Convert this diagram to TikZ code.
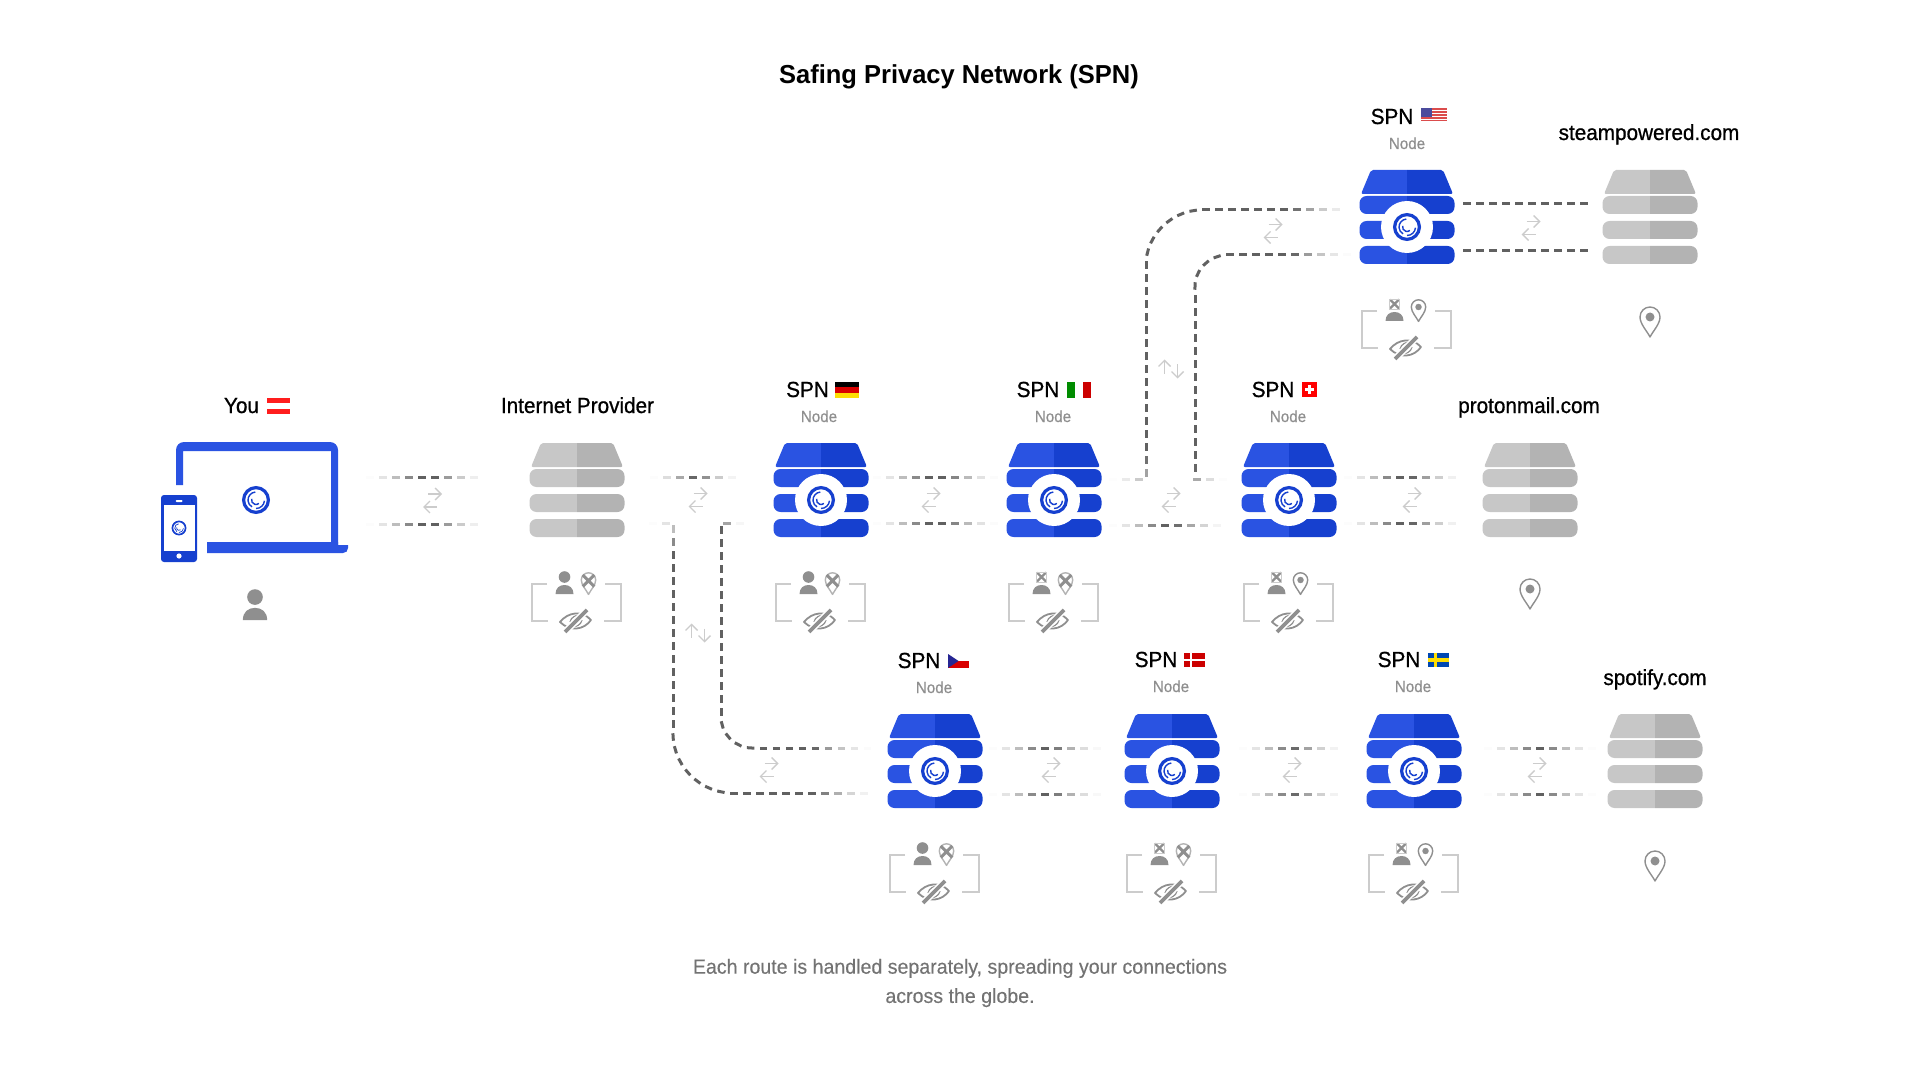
\documentclass[tikz,border=0pt]{standalone}
\usepackage{fontspec}
\setmainfont{Liberation Sans}
\newfontfamily\medfont[FakeBold=0.8,FakeStretch=0.95]{Liberation Sans}
\newfontfamily\subfont[FakeBold=0.5,FakeStretch=0.95]{Liberation Sans}
\newfontfamily\headfont[FakeStretch=0.98]{Liberation Sans}
\newfontfamily\bodyfont[FakeBold=0.3,FakeStretch=0.96]{Liberation Sans}
\usetikzlibrary{arrows, arrows.meta}
\usetikzlibrary{calc,decorations.markings}
\definecolor{spnleft}{HTML}{2A53E2}
\definecolor{spnright}{HTML}{1640CF}
\definecolor{greyleft}{HTML}{C7C7C7}
\definecolor{greyright}{HTML}{B3B3B3}
\definecolor{iconfill}{HTML}{8F8F8F}
\definecolor{bracketline}{HTML}{CCCCCC}
\newcommand{\stackshape}[1]{
  \fill[#1, rounded corners=1pt] (-36,-57) -- (36,-57) -- (46,-33) -- (-46,-33) -- cycle;
  \fill[#1, rounded corners=3.5pt] (-47.5,-31) rectangle (47.5,-13);
  \fill[#1, rounded corners=3.5pt] (-47.5,-6) rectangle (47.5,12);
  \fill[#1, rounded corners=3.5pt] (-47.5,19) rectangle (47.5,37);
}
\newcommand{\pinshape}[1]{
  \draw[#1, line width=0.7pt, line join=round] (0,20) .. controls (-3,14) and (-10,7) .. (-10,0) .. controls (-10,-5.5) and (-5.5,-10) .. (0,-10) .. controls (5.5,-10) and (10,-5.5) .. (10,0) .. controls (10,7) and (3,14) .. (0,20) -- cycle;
}
\tikzstyle{stackbox}=[minimum width=48pt, minimum height=47pt, inner sep=0pt]
\tikzstyle{headline}=[anchor=base, font=\headfont\bfseries\fontsize{13}{15}\selectfont]
\tikzstyle{hopname}=[anchor=base, font=\medfont\fontsize{10.9}{12}\selectfont]
\tikzstyle{hopsub}=[anchor=base, text=iconfill, font=\subfont\fontsize{8}{10}\selectfont]
\tikzstyle{footnote}=[align=center, text=black!55, font=\bodyfont\fontsize{10.2}{14.6}\selectfont]
\tikzstyle{swapline}=[arrows={-Straight Barb[length=3pt,width=6pt]}, draw=bracketline, line width=0.7pt]
\tikzset{
    fadelink/.style 2 args={
        decorate, decoration={markings, mark=between positions 0 and 1 step 6.5pt with {
            \pgfmathsetmacro{\dstart}{\pgfkeysvalueof{/pgf/decoration/mark info/distance from start}}
            \pgfmathsetmacro{\fadepart}{min(1,min((\dstart+2)/#1,(\pgfdecoratedpathlength-\dstart+2)/#2))}
            \pgfmathsetmacro{\fadeval}{62*\fadepart^1.6}
            \draw[line width=1.5pt, black!\fadeval] (-3.75,0) -- (3.75,0);
        }}
    },
    pics/logo/.style={code={
        \begin{scope}[scale=#1, yscale=-1]
            \fill[white] (0,0) circle (14);
            \draw[spnright, line width=#1*1.6pt] (0,0) circle (12.4);
            \draw[spnright, line width=#1*0.7pt] (95:8) arc (95:240:8);
            \draw[spnright, line width=#1*0.7pt] (165:4.5) arc (165:310:4.5);
            \draw[spnright, line width=#1*0.7pt] (270:8.5) arc (270:355:8.5);
        \end{scope}
    }},
    pics/bluestack/.style={code={
        \begin{scope}
            \clip (-50,-60) rectangle (0,40);
            \stackshape{spnleft}
        \end{scope}
        \begin{scope}
            \clip (0,-60) rectangle (50,40);
            \stackshape{spnright}
        \end{scope}
        \fill[white] (0,0) circle (26);
        \pic at (0,0) {logo=1};
    }},
    pics/greystack/.style={code={
        \begin{scope}
            \clip (-50,-60) rectangle (0,40);
            \stackshape{greyleft}
        \end{scope}
        \begin{scope}
            \clip (0,-60) rectangle (50,40);
            \stackshape{greyright}
        \end{scope}
    }},
    pics/devices/.style={code={
        \fill[spnleft] (-79,-15) [rounded corners=4pt] -- (-79,-58) -- (83,-58) [sharp corners] -- (83,45) -- (76,45) -- (76,-49) -- (-72,-49) -- (-72,-15) -- cycle;
        \fill[spnleft] (-48,42) -- (83,42) -- (83,45) -- (93,45) -- (93,48) .. controls (93,51) and (91,53) .. (88,53) -- (-48,53) -- cycle;
        \fill[spnright, rounded corners=1.5pt] (-94,-5) rectangle (-58,62);
        \fill[white] (-91,5) rectangle (-60,51);
        \fill[white, rounded corners=0.5pt] (-79.5,0) rectangle (-72.5,2);
        \fill[white] (-76,56) circle (2.6);
        \pic at (1,0) {logo=1};
        \pic at (-76,28) {logo=0.53};
    }},
    pics/personok/.style={code={
        \fill[iconfill] (0,-17) circle (5.8);
        \fill[iconfill] (-9,0) .. controls (-9,-6) and (-5,-9) .. (0,-9) .. controls (5,-9) and (9,-6) .. (9,0) -- cycle;
    }},
    pics/personx/.style={code={
        \draw[iconfill, line width=1.1pt] (-4.5,-21.5) -- (4.5,-12.5) (-4.5,-12.5) -- (4.5,-21.5);
        \draw[bracketline, line width=0.4pt] (-5,-22) rectangle (5,-12);
        \fill[iconfill] (-9,0) .. controls (-9,-6) and (-5,-9) .. (0,-9) .. controls (5,-9) and (9,-6) .. (9,0) -- cycle;
    }},
    pics/pinok/.style={code={
        \pinshape{iconfill}
        \fill[iconfill] (0,0) circle (4.5);
    }},
    pics/pinx/.style={code={
        \pinshape{greyright}
        \draw[iconfill, line width=1.5pt] (-8,-7) -- (8,9) (8,-7) -- (-8,9);
    }},
    pics/eyeslash/.style={code={
        \draw[iconfill, line width=0.9pt, line join=round] (-16,1) .. controls (-8,-9) and (6,-11) .. (15,-1) .. controls (8,9) and (-6,11) .. (-16,1) -- cycle;
        \draw[iconfill, line width=0.6pt] (-6,1) .. controls (-5,-4) and (0,-6) .. (4,-6);
        \draw[iconfill, line width=0.6pt] (6,-1) .. controls (5,4) and (0,6) .. (-4,6);
        \draw[white, line width=3.4pt] (-12,12) -- (12,-12);
        \draw[iconfill, line width=1.8pt] (-11,11) -- (11,-11);
    }},
    pics/privacy/.style 2 args={code={
        \draw[bracketline, line width=1pt] (-30,84) -- (-45.5,84) -- (-45.5,121) -- (-29,121);
        \draw[bracketline, line width=1pt] (28,84) -- (43.5,84) -- (43.5,121) -- (27,121);
        \pic at (-12.5,94) {#1};
        \pic[scale=0.72] at (11.5,80) {#2};
        \pic at (-1,121) {eyeslash};
    }},
    pics/swap/.style={code={
        \draw[swapline] (-4.5,-6.5) -- (9.5,-6.5);
        \draw[swapline] (4.5,6.5) -- (-9.5,6.5);
    }},
    pics/flagde/.style={code={
        \fill[black] (-12,-8) rectangle (12,-2.7);
        \fill[red!85!black] (-12,-2.7) rectangle (12,2.7);
        \fill[yellow!80!orange] (-12,2.7) rectangle (12,8);
    }},
    pics/flagat/.style={code={
        \fill[red!85!pink] (-11.5,-8) rectangle (11.5,-2.7);
        \fill[red!85!pink] (-11.5,2.7) rectangle (11.5,8);
    }},
    pics/flagit/.style={code={
        \fill[green!55!black] (-12,-8) rectangle (-4,8);
        \fill[red!80!black] (4,-8) rectangle (12,8);
    }},
    pics/flagch/.style={code={
        \fill[red] (-7.5,-7.5) rectangle (7.5,7.5);
        \fill[white] (-1.5,-4.5) rectangle (1.5,4.5);
        \fill[white] (-4.5,-1.5) rectangle (4.5,1.5);
    }},
    pics/flagus/.style={code={
        \fill[red!80!black!70] (-13,-7.5) rectangle (13,7.5);
        \draw[white, line width=0.55pt] (-13,-5.2) -- (13,-5.2) (-13,-2.3) -- (13,-2.3) (-13,0.6) -- (13,0.6) (-13,3.5) -- (13,3.5) (-13,6) -- (13,6);
        \fill[blue!45!black!70] (-13,-7.5) rectangle (-2,0.6);
    }},
    pics/flagcz/.style={code={
        \fill[red!85!black] (-10.5,0) rectangle (10.5,7);
        \fill[blue!50!black!85] (-10.5,-7) -- (0,0) -- (-10.5,7) -- cycle;
    }},
    pics/flagdk/.style={code={
        \fill[red!80!black] (-10.5,-7) rectangle (10.5,7);
        \fill[white] (-4.5,-7) rectangle (-1.8,7);
        \fill[white] (-10.5,-1.4) rectangle (10.5,1.4);
    }},
    pics/flagse/.style={code={
        \fill[blue!60!cyan!70!black] (-10.5,-7) rectangle (10.5,7);
        \fill[yellow!80!orange] (-5,-7) rectangle (-1.8,7);
        \fill[yellow!80!orange] (-10.5,-1.6) rectangle (10.5,1.6);
    }}
}

\begin{document}
\begin{tikzpicture}[x=0.5pt, y=-0.5pt]
  \useasboundingbox (0,0) rectangle (1920,1080);

  \node[headline] (heading) at (959,84) {Safing Privacy Network (SPN)};

  \node[stackbox] (you) at (255,500) {};
  \node[stackbox] (ip) at (577,500) {};
  \node[stackbox] (de) at (821,500) {};
  \node[stackbox] (it) at (1054,500) {};
  \node[stackbox] (ch) at (1289,500) {};
  \node[stackbox] (proton) at (1530,500) {};
  \node[stackbox] (us) at (1407,227) {};
  \node[stackbox] (steam) at (1650,227) {};
  \node[stackbox] (cz) at (935,771) {};
  \node[stackbox] (dk) at (1172,771) {};
  \node[stackbox] (se) at (1414,771) {};
  \node[stackbox] (spotify) at (1655,771) {};

  \pic at (you) {devices};
  \pic at (ip) {greystack};
  \pic at (proton) {greystack};
  \pic at (steam) {greystack};
  \pic at (spotify) {greystack};
  \pic at (de) {bluestack};
  \pic at (it) {bluestack};
  \pic at (ch) {bluestack};
  \pic at (us) {bluestack};
  \pic at (cz) {bluestack};
  \pic at (dk) {bluestack};
  \pic at (se) {bluestack};

  % labels
  \node[hopname] (youname) at (241.5,413) {You};
  \node[hopname] (ipname) at (577.5,413) {Internet Provider};
  \node[hopname] (dename) at (807.5,397) {SPN};
  \node[hopsub] (desub) at (819,422) {Node};
  \node[hopname] (itname) at (1038,397) {SPN};
  \node[hopsub] (itsub) at (1053,422) {Node};
  \node[hopname] (chname) at (1273,397) {SPN};
  \node[hopsub] (chsub) at (1288,422) {Node};
  \node[hopname] (protonname) at (1529,413) {protonmail.com};
  \node[hopname] (usname) at (1392,124) {SPN};
  \node[hopsub] (ussub) at (1407,149) {Node};
  \node[hopname] (steamname) at (1649,140) {steampowered.com};
  \node[hopname] (czname) at (919,668) {SPN};
  \node[hopsub] (czsub) at (934,693) {Node};
  \node[hopname] (dkname) at (1156,667) {SPN};
  \node[hopsub] (dksub) at (1171,692) {Node};
  \node[hopname] (sename) at (1399,667) {SPN};
  \node[hopsub] (sesub) at (1413,692) {Node};
  \node[hopname] (spotifyname) at (1655,685) {spotify.com};
  \node[footnote] (note) at (960,983) {Each route is handled separately, spreading your connections\\across the globe.};

  % flags
  \pic at (278.5,406) {flagat};
  \pic at (847,390) {flagde};
  \pic at (1079,390) {flagit};
  \pic at (1309.5,389.5) {flagch};
  \pic at (1434,116) {flagus};
  \pic at (958.5,661) {flagcz};
  \pic at (1194,660) {flagdk};
  \pic at (1438.5,660) {flagse};

  % what each hop knows
  \pic[scale=1.35] at (255,620) {personok};
  \pic at (ip) {privacy={personok}{pinx}};
  \pic at (de) {privacy={personok}{pinx}};
  \pic at (it) {privacy={personx}{pinx}};
  \pic at (ch) {privacy={personx}{pinok}};
  \pic at (us) {privacy={personx}{pinok}};
  \pic at (cz) {privacy={personok}{pinx}};
  \pic at (dk) {privacy={personx}{pinx}};
  \pic at (se) {privacy={personx}{pinok}};
  \pic at ($(proton)+(0,89)$) {pinok};
  \pic at ($(steam)+(0,90)$) {pinok};
  \pic at ($(spotify)+(0,90)$) {pinok};

  % routes
  \draw[fadelink={26}{26}] ($(you)+(115,-23)$) -- ($(ip)+(-94,-23)$);
  \draw[fadelink={26}{26}] ($(you)+(115,24)$) -- ($(ip)+(-94,24)$);
  \draw[fadelink={22}{22}] ($(ip)+(77,-23)$) -- ($(de)+(-84,-23)$);
  \draw[fadelink={26}{26}] ($(de)+(56,-23)$) -- ($(it)+(-59,-23)$);
  \draw[fadelink={26}{26}] ($(de)+(56,23)$) -- ($(it)+(-59,23)$);
  \draw[fadelink={26}{26}] ($(it)+(59,25)$) -- ($(ch)+(-66,25)$);
  \draw[fadelink={26}{26}] ($(ch)+(59,-23)$) -- ($(proton)+(-70,-23)$);
  \draw[fadelink={26}{26}] ($(ch)+(59,23)$) -- ($(proton)+(-70,23)$);
  \draw[fadelink={0.01}{0.01}] ($(us)+(60,-23)$) -- ($(steam)+(-61,-23)$);
  \draw[fadelink={0.01}{0.01}] ($(us)+(60,24)$) -- ($(steam)+(-61,24)$);
  \draw[fadelink={26}{26}] ($(cz)+(58,-23)$) -- ($(dk)+(-72,-23)$);
  \draw[fadelink={26}{26}] ($(cz)+(58,23)$) -- ($(dk)+(-72,23)$);
  \draw[fadelink={26}{26}] ($(dk)+(71,-23)$) -- ($(se)+(-73,-23)$);
  \draw[fadelink={26}{26}] ($(dk)+(71,23)$) -- ($(se)+(-73,23)$);
  \draw[fadelink={26}{26}] ($(se)+(74,-23)$) -- ($(spotify)+(-63,-23)$);
  \draw[fadelink={26}{26}] ($(se)+(74,23)$) -- ($(spotify)+(-63,23)$);

  % detours
  \draw[fadelink={26}{30}] ($(ip)+(76,23)$) -- (673,523) -- (673,733) .. controls +(0,33) and +(-33,0) .. (733,793) -- ($(cz)+(-62,22)$);
  \draw[fadelink={12}{30}] ($(de)+(-81,23)$) -- (721,523) -- (721,716) .. controls +(0,18) and +(-18,0) .. (753,748) -- ($(cz)+(-65,-23)$);
  \draw[fadelink={30}{30}] ($(it)+(59,-21)$) -- (1146,479) -- (1146,265) .. controls +(0,-30) and +(-30,0) .. (1202,210) -- ($(us)+(-58,-17)$);
  \draw[fadelink={22}{30}] ($(ch)+(-66,-21)$) -- (1195,479) -- (1195,287) .. controls +(0,-18) and +(-18,0) .. (1228,255) -- ($(us)+(-58,28)$);

  % swap arrows
  \pic at (432.5,500.5) {swap};
  \pic at (698,500) {swap};
  \pic at (931,500) {swap};
  \pic at (1171,500) {swap};
  \pic at (1412,500) {swap};
  \pic at (1273,231) {swap};
  \pic at (1531,228) {swap};
  \pic[rotate=90] at (1171,369) {swap};
  \pic[rotate=90] at (698,633) {swap};
  \pic at (769,770) {swap};
  \pic at (1051,770) {swap};
  \pic at (1292,770) {swap};
  \pic at (1537,770) {swap};
\end{tikzpicture}
\end{document}
